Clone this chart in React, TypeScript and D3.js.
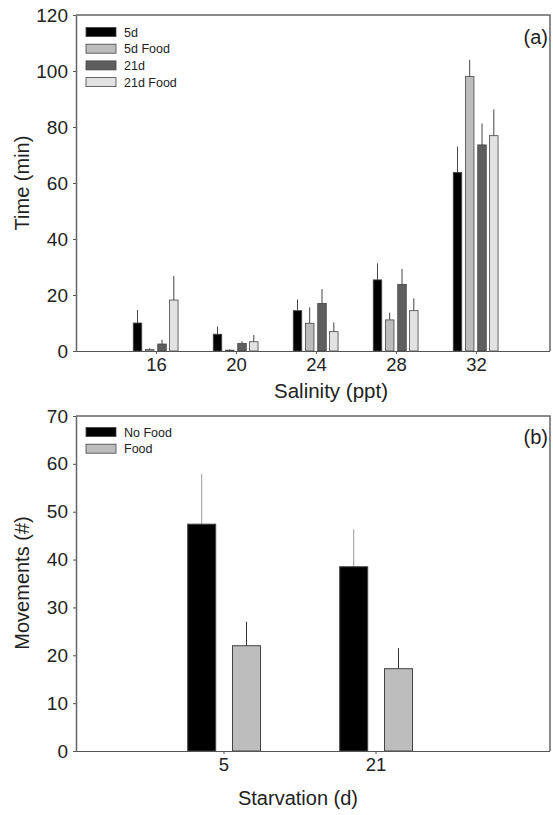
import React, { useEffect, useRef } from 'react';
import * as d3 from 'd3';

// panel (a): time vs salinity
const salinity = [16, 20, 24, 28, 32];
const seriesA = ['5d', '5d Food', '21d', '21d Food'];
const meanA = [
  [10, 6, 14.4, 25.4, 63.8],
  [0.5, 0.3, 9.9, 11.1, 98],
  [2.5, 2.7, 17, 23.8, 73.6],
  [18.2, 3.3, 6.9, 14.4, 76.9],
];
const errTopA = [
  [14.6, 8.7, 18.4, 31.3, 73],
  [1, 0.6, 15.6, 13.7, 104],
  [4, 3.5, 22.1, 29.3, 81.3],
  [26.8, 5.7, 10.2, 18.8, 86.3],
];
const yTicksA = [0, 20, 40, 60, 80, 100, 120];

// panel (b): movements vs starvation
const starvation = ['5', '21'];
const seriesB = ['No Food', 'Food'];
const meanB = [
  [47.4, 38.5],
  [22, 17.2],
];
const errTopB = [
  [57.9, 46.3],
  [27, 21.5],
];
const yTicksB = [0, 10, 20, 30, 40, 50, 60, 70];

const fillsA = ['#000000', '#bdbdbd', '#5e5e5e', '#e2e2e2'];
const fillsB = ['#000000', '#bdbdbd'];
const FONT = 'Liberation Sans, Arial, sans-serif';

const App = () => {
  const svgRef = useRef<SVGSVGElement>(null);

  useEffect(() => {
    const svg = d3.select(svgRef.current);
    svg.selectAll('*').remove();
    const left = 76, right = 550;

    // ---------- panel (a) ----------
    const ga = svg.append('g');
    const xA = d3.scaleLinear().domain([12, 35.7]).range([left, right]);
    const yA = d3.scaleLinear().domain([0, 120]).range([351, 15]);
    const offsets = [-18.5, -6.3, 6, 17.8];
    const bw = 8.5;

    ga.append('path')
      .attr('d', `M${left},${yA(120)}H${right}V${yA(0)}`)
      .attr('fill', 'none').attr('stroke', '#666').attr('stroke-width', 1.5);

    seriesA.forEach((s, i) => {
      const g = ga.append('g');
      g.selectAll('line.err')
        .data(salinity)
        .join('line')
        .attr('x1', (d) => xA(d) + offsets[i])
        .attr('x2', (d) => xA(d) + offsets[i])
        .attr('y1', (d, j) => yA(meanA[i][j]))
        .attr('y2', (d, j) => yA(errTopA[i][j]))
        .attr('stroke', '#444').attr('stroke-width', 1);
      g.selectAll('rect')
        .data(salinity)
        .join('rect')
        .attr('x', (d) => xA(d) + offsets[i] - bw / 2)
        .attr('width', bw)
        .attr('y', (d, j) => yA(meanA[i][j]))
        .attr('height', (d, j) => yA(0) - yA(meanA[i][j]))
        .attr('fill', fillsA[i])
        .attr('stroke', '#444').attr('stroke-width', 0.8);
    });

    ga.append('g')
      .attr('transform', `translate(0,${yA(0)})`)
      .call(d3.axisBottom(xA).tickValues(salinity).tickSize(3).tickSizeOuter(0).tickPadding(4))
      .call((g) => g.select('.domain').attr('d', `M${left - 3},0.5H${right}`).attr('stroke', '#555'))
      .call((g) => g.selectAll('.tick line').attr('stroke', '#555'))
      .selectAll('text').attr('font-size', 18.5).attr('font-family', FONT).attr('fill', '#222');

    ga.append('g')
      .attr('transform', `translate(${left},0)`)
      .call(d3.axisLeft(yA).tickValues(yTicksA).tickSize(3).tickSizeOuter(0).tickPadding(5))
      .call((g) => g.select('.domain').attr('stroke', '#666').attr('stroke-width', 1.5))
      .call((g) => g.selectAll('.tick line').attr('stroke', '#555'))
      .selectAll('text').attr('font-size', 19).attr('font-family', FONT).attr('fill', '#222');

    ga.append('text')
      .attr('transform', `translate(29,183) rotate(-90)`)
      .attr('text-anchor', 'middle').attr('font-size', 20).attr('font-family', FONT).attr('fill', '#222')
      .text('Time (min)');
    ga.append('text')
      .attr('x', 331).attr('y', 398)
      .attr('text-anchor', 'middle').attr('font-size', 20.5).attr('font-family', FONT).attr('fill', '#222')
      .text('Salinity (ppt)');
    ga.append('text')
      .attr('x', 548).attr('y', 44)
      .attr('text-anchor', 'end').attr('font-size', 20).attr('font-family', FONT).attr('fill', '#222')
      .text('(a)');

    const legA = ga.append('g').selectAll('g').data(seriesA).join('g')
      .attr('transform', (d, i) => `translate(86,${27.5 + i * 16.7})`);
    legA.append('rect').attr('width', 30).attr('height', 9)
      .attr('fill', (d, i) => fillsA[i]).attr('stroke', '#444').attr('stroke-width', 0.8);
    legA.append('text').attr('x', 38).attr('y', 9)
      .attr('font-size', 12.5).attr('font-family', FONT).attr('fill', '#222')
      .text((d) => d);

    // ---------- panel (b) ----------
    const gb = svg.append('g');
    const xB = d3.scaleBand().domain(starvation).range([148, 452]);
    const yB = d3.scaleLinear().domain([0, 70]).range([751, 416]);
    const offB = [-22.3, 22.5];
    const bwB = 28;

    gb.append('path')
      .attr('d', `M${left},${yB(70)}H${right}V${yB(0)}`)
      .attr('fill', 'none').attr('stroke', '#666').attr('stroke-width', 1.5);

    seriesB.forEach((s, i) => {
      const g = gb.append('g');
      g.selectAll('line')
        .data(starvation)
        .join('line')
        .attr('x1', (d) => xB(d)! + xB.bandwidth() / 2 + offB[i])
        .attr('x2', (d) => xB(d)! + xB.bandwidth() / 2 + offB[i])
        .attr('y1', (d, j) => yB(meanB[i][j]))
        .attr('y2', (d, j) => yB(errTopB[i][j]))
        .attr('stroke', i === 0 ? '#999' : '#333').attr('stroke-width', 1);
      g.selectAll('rect')
        .data(starvation)
        .join('rect')
        .attr('x', (d) => xB(d)! + xB.bandwidth() / 2 + offB[i] - bwB / 2)
        .attr('width', bwB)
        .attr('y', (d, j) => yB(meanB[i][j]))
        .attr('height', (d, j) => yB(0) - yB(meanB[i][j]))
        .attr('fill', fillsB[i])
        .attr('stroke', '#444').attr('stroke-width', 1);
    });

    gb.append('g')
      .attr('transform', `translate(0,${yB(0)})`)
      .call(d3.axisBottom(xB).tickSize(3).tickSizeOuter(0).tickPadding(4))
      .call((g) => g.select('.domain').attr('d', `M${left - 3},0.5H${right}`).attr('stroke', '#555'))
      .call((g) => g.selectAll('.tick line').attr('stroke', '#555'))
      .selectAll('text').attr('font-size', 18.5).attr('font-family', FONT).attr('fill', '#222');

    gb.append('g')
      .attr('transform', `translate(${left},0)`)
      .call(d3.axisLeft(yB).tickValues(yTicksB).tickSize(3).tickSizeOuter(0).tickPadding(5))
      .call((g) => g.select('.domain').attr('stroke', '#666').attr('stroke-width', 1.5))
      .call((g) => g.selectAll('.tick line').attr('stroke', '#555'))
      .selectAll('text').attr('font-size', 19).attr('font-family', FONT).attr('fill', '#222');

    gb.append('text')
      .attr('transform', `translate(29,583) rotate(-90)`)
      .attr('text-anchor', 'middle').attr('font-size', 20).attr('font-family', FONT).attr('fill', '#222')
      .text('Movements (#)');
    gb.append('text')
      .attr('x', 298).attr('y', 805)
      .attr('text-anchor', 'middle').attr('font-size', 20).attr('font-family', FONT).attr('fill', '#222')
      .text('Starvation (d)');
    gb.append('text')
      .attr('x', 548).attr('y', 444)
      .attr('text-anchor', 'end').attr('font-size', 20).attr('font-family', FONT).attr('fill', '#222')
      .text('(b)');

    const legB = gb.append('g').selectAll('g').data(seriesB).join('g')
      .attr('transform', (d, i) => `translate(86,${427.5 + i * 16.7})`);
    legB.append('rect').attr('width', 30).attr('height', 9)
      .attr('fill', (d, i) => fillsB[i]).attr('stroke', '#444').attr('stroke-width', 0.8);
    legB.append('text').attr('x', 38).attr('y', 9)
      .attr('font-size', 12.5).attr('font-family', FONT).attr('fill', '#222')
      .text((d) => d);
  }, []);

  return (
    <svg
      ref={svgRef}
      width={553}
      height={815}
      style={{ position: 'absolute', left: 0, top: 0, background: '#fff' }}
    />
  );
};

export default App;
